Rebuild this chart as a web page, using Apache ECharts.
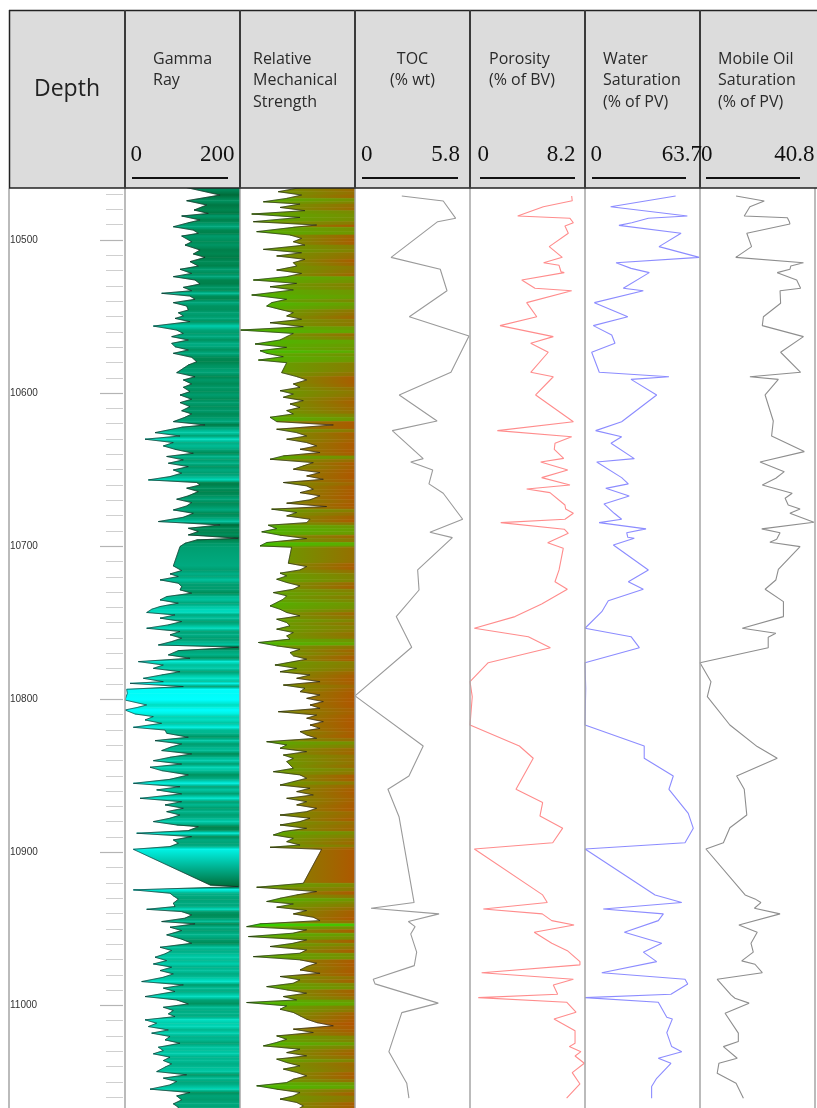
<!DOCTYPE html>
<html><head><meta charset="utf-8">
<script src="https://cdn.jsdelivr.net/npm/echarts@6/dist/echarts.min.js"></script>
<style>html,body{margin:0;padding:0;background:#fff}#c{width:817px;height:1108px}</style>
</head><body><div id="c"></div>
<script>
// ---------------- data ----------------
const depthRange = [10466, 11067];
const depthLabels = [10500, 10600, 10700, 10800, 10900, 11000];
const trackTitles = ['Gamma\nRay', 'Relative\nMechanical\nStrength', 'TOC\n(% wt)', 'Porosity\n(% of BV)', 'Water\nSaturation\n(% of PV)', 'Mobile Oil\nSaturation\n(% of PV)'];
const scaleMin = ['0', '', '0', '0', '0', '0'];
const scaleMax = ['200', '', '5.8', '8.2', '63.7', '40.8'];
const axisMax = [200, 1, 5.8, 8.2, 63.7, 40.8];

// [depth, gamma ray]
const gammaRay = [[10465,98.6],[10470.6,165.3],[10474.3,107.3],[10477.1,142.1],[10480.4,120.1],[10482.6,145],[10484.3,98.6],[10486.9,130.5],[10488.7,110.2],[10491.3,84.1],[10493.5,118.9],[10495.6,127.6],[10497.4,98.6],[10501.1,116],[10503.3,104.4],[10506.5,130.5],[10509.1,118.9],[10511.3,139.2],[10514.1,113.1],[10517,127.6],[10519.1,95.7],[10521.8,116],[10523.9,84.1],[10526.1,121.8],[10528.7,130.5],[10530.9,101.5],[10533.1,116],[10534.8,63.8],[10536.6,113.1],[10538.7,121.8],[10540.9,84.1],[10543.1,107.3],[10545.7,110.2],[10547.5,92.8],[10549.6,101.5],[10551.2,87],[10553.3,113.1],[10556.2,49.3],[10558.8,89.9],[10561,101.5],[10563.1,81.2],[10565.3,110.2],[10567.5,81.2],[10569.7,87],[10571.8,110.2],[10574,84.1],[10576.6,116],[10579.5,124.7],[10581.6,110.2],[10583.8,101.5],[10586.6,89.9],[10589.3,121.8],[10591.4,101.5],[10594,116],[10596.2,101.5],[10599,113.1],[10601.2,95.7],[10604,116],[10606.2,95.7],[10608.8,113.1],[10611.5,98.6],[10613.6,116],[10615.8,104.4],
[10618.6,84.1],[10620.8,139.2],[10622.3,98.6],[10625.8,52.2],[10628,95.7],[10630.1,34.8],[10632.3,84.1],[10634.5,66.7],[10636.7,87],[10639.3,118.9],[10641.4,72.5],[10643.6,101.5],[10645.8,75.4],[10648,110.2],[10650.2,84.1],[10652.3,98.6],[10654.5,78.3],[10656.7,40.6],[10658.4,124.7],[10660,130.5],[10662.1,107.3],[10664.3,127.6],[10667.1,110.2],[10669.3,89.9],[10671.5,116],[10673.7,107.3],[10676.3,84.1],[10678.5,118.9],[10681.1,101.5],[10683.9,58],[10686.1,165.3],[10688.3,110.2],[10690.4,127.6],[10692.6,110.2],[10694.8,197.2],[10695.9,124.7],[10698.1,104.4],[10700.2,95.7],[10712.9,84.1],[10715.9,98.6],[10718.1,78.3],[10719.8,92.8],[10722,60.9],[10724.2,92.8],[10726.4,98.6],[10728.5,95.7],[10730.7,116],[10732.9,72.5],[10735.1,60.9],[10737.2,92.8],[10739.4,60.9],[10741.2,46.4],[10743.3,37.7],[10744.9,87],[10747,60.9],[10749.2,98.6],[10751.4,75.4],[10753.6,37.7],[10755.7,95.7],[10757.9,78.3],[10760.1,98.6],[10762.3,81.2],[10764.5,58],[10766,197.2],[10768.2,92.8],[10771,75.4],
[10773.2,113.1],[10775.4,23.2],[10777.6,66.7],[10779.8,49.3],[10782,95.7],[10784.1,63.8],[10786.3,31.9],[10788.5,66.7],[10789.6,8.7],[10791.7,101.5],[10793.5,2.9],[10796.1,4.1],[10800.5,0],[10803.7,37.7],[10805.2,23.2],[10807,0],[10809.6,17.4],[10811.3,49.3],[10813.5,34.8],[10815.7,63.8],[10818.3,14.5],[10820.1,69.6],[10822.2,72.5],[10824.8,110.2],[10827,52.2],[10829.2,98.6],[10831.4,78.3],[10833.5,63.8],[10835.7,116],[10837.9,78.3],[10840.1,49.3],[10842.3,98.6],[10844.4,43.5],[10846.6,63.8],[10849.4,110.2],[10852.3,78.3],[10854.9,14.5],[10857.1,95.7],[10859.2,55.1],[10861.8,98.6],[10864.7,26.1],[10866.9,98.6],[10869,69.6],[10871.2,101.5],[10873.4,72.5],[10875.6,95.7],[10877.7,78.3],[10879.9,49.3],[10882.1,89.9],[10883.2,127.6],[10885.8,110.2],[10887.5,20.3],[10889.7,116],[10891.9,84.1],[10894.1,92.8],[10896.2,78.3],[10898,14.5],[10921.3,147.9],[10922.4,197.2],[10924.5,14.5],[10926.7,78.3],
[10928.4,84.1],[10930.6,92.8],[10933.2,84.1],[10935.4,87],[10937.2,37.7],[10938.7,98.6],[10940.9,116],[10943,104.4],[10945.2,63.8],[10946.7,121.8],[10948.9,78.3],[10951.1,98.6],[10953.9,72.5],[10956.7,98.6],[10959.4,116],[10962,60.9],[10964.1,81.2],[10966.3,69.6],[10968.5,52.2],[10970.7,72.5],[10972.9,49.3],[10975,81.2],[10977.2,60.9],[10979.4,84.1],[10981.6,66.7],[10984.4,29],[10986.6,101.5],[10988.7,66.7],[10990.9,87],[10994.2,34.8],[10996.4,89.9],[10999,110.2],[11001.2,66.7],[11003.3,84.1],[11005.5,75.4],[11007.3,87],[11009.4,34.8],[11011.6,55.1],[11013.8,40.6],[11016,75.4],[11018.1,46.4],[11020.3,78.3],[11022.5,69.6],[11024.7,95.7],[11027.3,58],[11029.5,66.7],[11031.6,49.3],[11033.8,78.3],[11036,66.7],[11038.2,81.2],[11040.3,69.6],[11043.2,55.1],[11045.3,107.3],[11047.5,66.7],[11049.7,89.9],[11051.9,78.3],[11054.7,43.5],[11056.9,113.1],[11059.1,89.9],[11061.7,98.6],[11064.3,84.1],[11066.5,92.8],[11068,90]];

// [depth, relative mechanical strength (0..1, fill to right edge)]
const mechStrength = [[10465,0.58],[10468.4,0.333],[10470.6,0.536],[10472.8,0.406],[10475,0.203],[10476.5,0.522],[10478.7,0.348],[10480.8,0.565],[10483,0.102],[10485.2,0.522],[10488,0.116],[10490.2,0.667],[10491.7,0.464],[10494.5,0.145],[10496.7,0.435],[10498.9,0.536],[10501.1,0.464],[10503.3,0.565],[10506.1,0.203],[10508.3,0.536],[10510.4,0.319],[10512.6,0.565],[10514.8,0.464],[10517,0.493],[10519.6,0.319],[10521.8,0.536],[10523.9,0.406],[10526.1,0.116],[10528.3,0.493],[10530.5,0.261],[10532.6,0.464],[10535.9,0.102],[10538.7,0.406],[10540.9,0.275],[10543.1,0.232],[10545.3,0.348],[10547.4,0.464],[10549.6,0.406],[10551.8,0.536],[10554,0.261],[10556.6,0.551],[10558.8,0],[10561,0.464],[10563.1,0.406],[10565.3,0.348],[10567.9,0.131],[10570.1,0.406],[10572.3,0.174],[10574,0.232],[10576.2,0.377],[10578.4,0.16],[10580.1,0.406],[10586.6,0.362],[10589.2,0.493],[10591.4,0.58],[10594,0.464],[10596.2,0.522],[10598.4,0.348],[10600.6,0.464],[10602.7,0.377],[10604.9,0.551],[10607.1,0.435],[10609.3,0.522],[10611.4,0.406],[10613.6,0.464],[10615.8,0.261],
[10618.6,0.319],[10620.8,0.812],[10623.6,0.319],[10625.8,0.493],[10628,0.58],[10630.1,0.406],[10632.3,0.58],[10634.5,0.667],[10636.7,0.522],[10638.8,0.696],[10641,0.377],[10643.2,0.261],[10645.4,0.638],[10647.5,0.551],[10649.7,0.464],[10651.9,0.696],[10654.1,0.58],[10656.3,0.725],[10658.4,0.377],[10660.6,0.58],[10662.8,0.638],[10665,0.522],[10667.1,0.696],[10669.7,0.609],[10671.9,0.406],[10674.1,0.754],[10675.8,0.275],[10678,0.493],[10680.2,0.406],[10682.4,0.609],[10684.6,0.58],[10686.3,0.246],[10688.5,0.319],[10690.6,0.189],[10692.8,0.348],[10695,0.58],[10697.6,0.232],[10699.8,0.174],[10700.7,0.449],[10711.1,0.42],[10713.3,0.58],[10715.5,0.522],[10717.6,0.348],[10719.4,0.406],[10721.6,0.319],[10723.7,0.406],[10725.9,0.522],[10728.1,0.464],[10730.3,0.29],[10732.4,0.406],[10734.6,0.377],[10736.8,0.319],[10739,0.261],[10741.2,0.348],[10743.3,0.406],[10745.5,0.522],[10747.7,0.319],[10749.9,0.406],[10752,0.435],[10754.2,0.319],[10756.4,0.464],[10758.6,0.406],[10760.7,0.435],[10762.9,0.16],[10765.1,0.319],[10767.3,0.522],[10769.5,0.435],[10771.6,0.464],[10773.8,0.58],
[10775.4,0.464],[10777.6,0.304],[10779.8,0.493],[10782,0.348],[10784.1,0.609],[10786.3,0.493],[10788.5,0.696],[10790.7,0.377],[10792.8,0.565],[10795,0.522],[10797.2,0.696],[10799.4,0.58],[10801.5,0.725],[10803.7,0.609],[10805.9,0.696],[10808.1,0.333],[10810.3,0.667],[10812.4,0.58],[10814.6,0.725],[10816.8,0.609],[10819,0.696],[10821.1,0.522],[10823.3,0.58],[10825.5,0.667],[10827.7,0.232],[10829.8,0.406],[10832,0.348],[10834.2,0.58],[10836.4,0.377],[10838.6,0.464],[10840.7,0.406],[10842.9,0.435],[10845.1,0.464],[10847.3,0.29],[10849.4,0.522],[10851.6,0.58],[10853.8,0.464],[10856,0.348],[10858.1,0.609],[10860.3,0.493],[10862.5,0.638],[10864.7,0.406],[10866.9,0.58],[10869,0.493],[10871.2,0.667],[10873.4,0.58],[10875.6,0.348],[10877.7,0.609],[10879.9,0.522],[10882.1,0.348],[10884.3,0.58],[10886.4,0.377],[10888.6,0.29],[10890.8,0.464],[10893,0.406],[10895.2,0.522],[10896.7,0.261],[10898,0.71],[10920.2,0.551],
[10922.8,0.145],[10925.6,0.667],[10927.8,0.493],[10930,0.348],[10932.1,0.232],[10933.7,0.464],[10935.8,0.319],[10938,0.58],[10940.2,0.464],[10942.4,0.638],[10944.6,0.696],[10946.7,0.174],[10948.5,0.058],[10950.6,0.58],[10952.8,0.464],[10955,0.073],[10957.2,0.58],[10959.4,0.464],[10961.5,0.261],[10963.7,0.58],[10965.9,0.522],[10968.1,0.116],[10970.2,0.522],[10972.4,0.667],[10974.6,0.58],[10976.8,0.522],[10979,0.696],[10981.1,0.348],[10983.3,0.522],[10985.5,0.464],[10987.7,0.232],[10989.8,0.406],[10992,0.58],[10994.2,0.377],[10996.4,0.493],[10998.1,0.058],[11000.3,0.406],[11002.5,0.348],[11004.6,0.464],[11006.8,0.522],[11009,0.58],[11011.2,0.667],[11013.3,0.812],[11015.5,0.464],[11017.7,0.638],[11019.9,0.319],[11022.1,0.406],[11024.2,0.319],[11026.4,0.203],[11028.6,0.522],[11030.8,0.406],[11032.9,0.58],[11035.1,0.319],[11037.3,0.406],[11039.5,0.522],[11041.6,0.377],[11043.8,0.493],[11046,0.58],[11048.2,0.464],[11050.4,0.406],[11052.5,0.145],[11054.7,0.319],[11056.9,0.522],[11059.1,0.464],[11061.2,0.348],[11063.4,0.493],[11065.6,0.551],[11068,0.5]];

// [depth, TOC % wt]
const toc = [[10471.2,2.36],[10474.5,4.45],[10485.8,5.08],[10488,4.17],[10511.3,1.82],[10519.1,4.3],[10533.1,4.64],[10550.1,2.74],[10562.7,5.75],[10586.4,4.84],[10601.2,2.23],[10618.2,4.14],[10624.5,1.88],[10642.8,3.44],[10645,2.81],[10650.2,3.92],[10659.3,3.73],[10665.4,4.45],[10682.4,5.43],[10690.9,3.78],[10694.4,4.91],[10715.5,3.16],[10728.6,3.23],[10746,2.08],[10766,2.86],[10797.8,0],[10830.5,3.44],[10850.1,2.72],[10858.8,1.66],[10876.7,2.22],[10932.8,2.98],[10936.5,0.81],[10940.2,4.24],[10945.2,2.69],[10948.5,3.03],[10953.3,2.81],[10965.2,3.11],[10974,2.99],[10982.9,0.92],[10985.9,1.01],[10998.5,4.2],[11004.7,2.36],[11030.2,1.71],[11050.8,2.61],[11060.6,2.72]];

// [depth, porosity % of BV]
const porosity = [[10471.2,7.25],[10474.3,7.29],[10478.2,5.23],[10484.3,3.4],[10485.8,7.13],[10488.7,7.37],[10489.5,7.49],[10490.8,6.77],[10495.6,7.01],[10504.3,5.65],[10511.3,6.58],[10514.8,5.25],[10516.5,6.35],[10520.7,6.49],[10521.3,6.72],[10526.1,3.69],[10531.5,4.63],[10533.1,7.25],[10540.9,4.04],[10550.1,4.76],[10555.9,2.14],[10563.1,5.94],[10567.4,4.33],[10573.3,5.58],[10586.4,4.33],[10589.3,5.94],[10601.2,4.68],[10618.7,7.37],[10624.5,1.95],[10628.5,7.25],[10632.8,6.06],[10636.7,6.01],[10642.6,6.68],[10645,5.04],[10650.2,6.97],[10655.2,5.11],[10660,7.13],[10662.6,4.04],[10665,5.7],[10673.1,6.77],[10675.7,6.82],[10678.5,7.37],[10682.4,6.77],[10684.6,2.19],[10688.9,6.72],[10691.6,7.01],[10697.7,5.54],[10701.4,6.65],[10715.5,6.35],[10723.2,6.06],[10728.1,6.94],[10737.7,5.11],[10746,3.21],[10753.6,0.31],[10759.1,4.16],[10766.3,5.73],[10776.1,1.3],[10788.5,0],[10798.3,0.16],[10816.8,0],[10830.5,3.52],[10838.5,4.51],[10858.8,3.28],[10867.5,5.18],[10876.2,4.99],[10884.2,6.61],[10893.7,5.9],[10897.8,0.31],[10927.8,5.18],[10932.8,5.51],[10937,0.95],[10940.2,5.15],[10944.6,5.83],[10947.4,7.42],[10952.2,4.58],[10959.4,5.83],[10964.2,6.94],[10971.4,7.84],[10973.5,7.84],[10978.6,0.83],[10982.9,7.37],[10986.6,5.94],[10992.7,6.25],[10994.9,0.59],[10997.9,6.89],[11004.4,7.56],[11008.8,5.99],[11016.5,7.49],[11024.7,7.49],[11026.9,7.08],[11030.2,7.91],[11033,7.49],[11037.8,8.15],[11043.9,7.29],[11051.3,7.84],[11060.6,6.89]];

// [depth, water saturation % of PV]
const waterSat = [[10471.2,50.2],[10478.2,14.2],[10484.3,56.7],[10485.8,35.1],[10488.7,25.9],[10490.4,18.8],[10495.6,53.2],[10504.3,41],[10511.3,63.3],[10514.8,17.2],[10518.5,25.5],[10521.3,35.6],[10531.5,21.2],[10533.1,32.3],[10540.9,5.2],[10550.1,23.7],[10555.9,4.6],[10562,14.8],[10567.4,16.6],[10573.3,3.7],[10586.4,7.9],[10589.3,46.5],[10591,25.5],[10601.2,39.7],[10618.7,20.3],[10624.5,5.9],[10628.5,20.3],[10632.8,14.4],[10642.8,27.3],[10645,6.5],[10655.2,20.3],[10659.3,24],[10662.2,11.5],[10667.2,24.5],[10672.4,10.5],[10678.5,16.2],[10682.4,20.3],[10684.6,7.8],[10688.7,33.8],[10691.2,23.1],[10694.2,23.7],[10694.8,27.3],[10699.2,15.7],[10715.5,35.1],[10723.2,24],[10728.1,32.3],[10735.6,12.9],[10742.8,9.3],[10753.6,0],[10759.1,25.5],[10766.3,30.1],[10776.1,0],[10792.9,0.4],[10816.8,0],[10830.5,32.8],[10838.5,32.8],[10850.1,48.9],[10858.8,46.5],[10874.5,57.2],[10884.3,60],[10893.7,55.4],[10897.8,0],[10927.8,38.8],[10932.8,53.6],[10937,10.1],[10940.2,43.4],[10944.6,40.6],[10952.2,21.8],[10959.4,42.5],[10965.2,32.3],[10971.4,39.7],[10978.6,9.3],[10982.9,55.4],[10986,56.9],[10992.7,47.6],[10994.9,0],[10997.9,40.6],[11007.7,45.3],[11008.8,48.4],[11017.8,45.3],[11026.9,48],[11030.2,53.6],[11034.5,40.6],[11037.8,47.6],[11047.6,39.7],[11053,36.9],[11060.6,36.9]];

// [depth, mobile oil saturation % of PV]
const mobileOil = [[10471.2,12.8],[10474.5,22.8],[10478.2,17.7],[10484.3,15.7],[10485.4,31],[10488,31.7],[10489.5,31.9],[10495.6,16.6],[10504.3,18.3],[10511.3,12.7],[10514.8,36.7],[10517,32.2],[10519.1,31.9],[10521.3,27.4],[10526.1,34.3],[10531.5,35.7],[10533.1,28.4],[10541.3,28.6],[10550.1,22.5],[10555.9,22.1],[10563.1,36.7],[10573.3,28.6],[10586.4,35.7],[10589.3,17.7],[10591,27.8],[10601.2,23.1],[10618.2,26],[10628,25.4],[10638.2,37],[10645,21.3],[10651.3,29.9],[10655.6,26.9],[10660,22.1],[10665.4,32.7],[10668.7,30.2],[10673.1,31.3],[10675.7,35.5],[10678.5,31.9],[10684.4,40.4],[10688.7,21.9],[10691.2,28.4],[10695.5,27.2],[10697.4,24.8],[10700.3,35.5],[10715.1,27.8],[10722.1,26.9],[10728.1,23.1],[10736.2,29.6],[10746,29.6],[10753.6,15],[10756.9,26.9],[10759.5,24.2],[10766.3,24.2],[10776.1,0],[10788.5,3.9],[10798.3,2.6],[10816.8,10.6],[10830.9,20.3],[10838.5,27.4],[10850.1,13],[10858.8,15.7],[10875.6,16.6],[10883.9,10.6],[10893.7,8.3],[10897.8,2.1],[10927.8,16],[10930.4,19.5],[10932.8,21.6],[10936.5,19.3],[10940.2,28.4],[10947.4,13.8],[10952.2,20.3],[10959.4,18.1],[10965.2,18.9],[10970.9,14.8],[10973.1,19.5],[10978.6,22.1],[10982.9,6.1],[10993.1,11],[10995.3,12.4],[10998.5,17.4],[11005.1,8.9],[11018.1,13.6],[11023.6,13.6],[11026.9,8.3],[11034.5,13.2],[11037.8,6.7],[11044.3,6.1],[11050.8,12.8],[11060.6,15.4]];

// ---------------- helpers ----------------
function hex(h){ return [1,3,5].map(i => parseInt(h.substr(i,2),16)); }
function ramp(stops, v){
  if (v <= stops[0][0]) return stops[0][1];
  for (let i = 1; i < stops.length; i++) {
    if (v <= stops[i][0]) {
      const t = (v - stops[i-1][0]) / (stops[i][0] - stops[i-1][0]);
      const a = hex(stops[i-1][1]), b = hex(stops[i][1]);
      return 'rgb(' + [0,1,2].map(k => Math.round(a[k] + (b[k]-a[k])*t)).join(',') + ')';
    }
  }
  return stops[stops.length-1][1];
}
const grStops = [[0,'#00ffff'],[30,'#00e6cc'],[60,'#00c4a0'],[90,'#00a478'],[120,'#008650'],[160,'#006a38']];
const rmsLeftStops = [[0,'#22ee00'],[0.2,'#44c000'],[0.4,'#6a9a00'],[0.6,'#8a7c00'],[0.8,'#a86000']];
const rmsRightStops = [[0,'#30e000'],[0.15,'#50b800'],[0.35,'#7e8600'],[0.5,'#a85e00'],[1,'#c04800']];

function segs(arr){ const out = []; for (let i = 0; i < arr.length-1; i++) out.push([arr[i][1], arr[i][0], arr[i+1][1], arr[i+1][0]]); return out; }
function xy(arr){ return arr.map(p => [p[1], p[0]]); }

function grRender(params, api){
  const v0 = api.value(0), d0 = api.value(1), v1 = api.value(2), d1 = api.value(3);
  const g = new echarts.graphic.LinearGradient(0,0,0,1,[{offset:0,color:ramp(grStops,v0)},{offset:1,color:ramp(grStops,v1)}]);
  return { type:'polygon', silent:true,
    shape:{ points:[api.coord([v0,d0]), api.coord([v1,d1]), api.coord([axisMax[0],d1]), api.coord([axisMax[0],d0])] },
    style:{ fill:g, stroke:g, lineWidth:0.6 } };
}
function rmsRender(params, api){
  const v0 = api.value(0), d0 = api.value(1), v1 = api.value(2), d1 = api.value(3);
  const v = (v0 + v1) / 2;
  const g = new echarts.graphic.LinearGradient(0,0,1,0,[{offset:0,color:ramp(rmsLeftStops,v)},{offset:1,color:ramp(rmsRightStops,v)}]);
  return { type:'polygon', silent:true,
    shape:{ points:[api.coord([v0,d0]), api.coord([v1,d1]), api.coord([axisMax[1],d1]), api.coord([axisMax[1],d0])] },
    style:{ fill:g, stroke:g, lineWidth:0.6 } };
}

// ---------------- layout ----------------
const trackLeft = [125, 240, 355, 470, 585, 700];
const TW = 115, TOP = 188, H = 920;

const grids = [{ left: 9, top: TOP, width: 114, height: H, show: false }];
trackLeft.forEach(l => grids.push({ left: l, top: TOP, width: TW, height: H, show: true, backgroundColor: '#fff', borderWidth: 0 }));

const xAxes = [{ gridIndex: 0, type: 'value', min: 0, max: 1, show: false }];
axisMax.forEach((m, i) => xAxes.push({ gridIndex: i+1, type: 'value', min: 0, max: m, show: false }));

const minorTicks = [];
for (let d = Math.ceil(depthRange[0]/10)*10; d <= depthRange[1]; d += 10) if (d % 100 !== 0) minorTicks.push(d);

const yBase = { type: 'value', min: depthRange[0], max: depthRange[1], inverse: true, splitLine: { show: false } };
const yAxes = [
  Object.assign({}, yBase, { gridIndex: 0, position: 'left', axisLine: { show: false }, axisTick: { show: false },
    axisLabel: { inside: true, margin: 1, customValues: depthLabels, formatter: v => String(v), fontSize: 10, fontFamily: 'Liberation Sans', color: '#333', verticalAlign: 'middle', padding: [0,0,8,0] } }),
  Object.assign({}, yBase, { gridIndex: 0, position: 'right', axisLine: { show: false }, axisLabel: { show: false },
    axisTick: { show: true, inside: true, length: 23, customValues: depthLabels, lineStyle: { color: '#b4b4b4', width: 1.2 } } }),
  Object.assign({}, yBase, { gridIndex: 0, position: 'right', axisLine: { show: false }, axisLabel: { show: false },
    axisTick: { show: true, inside: true, length: 17, customValues: minorTicks, lineStyle: { color: '#cfcfcf', width: 1 } } })
];
trackLeft.forEach((l, i) => yAxes.push(Object.assign({}, yBase, { gridIndex: i+1, show: false })));

const lineSeries = (data, i, color, width) => ({ type: 'line', xAxisIndex: i+1, yAxisIndex: i+3, data: xy(data), symbol: 'none', showSymbol: false, silent: true, z: 4,
  lineStyle: { color: color, width: width }, clip: true });

const series = [
  { type: 'custom', xAxisIndex: 1, yAxisIndex: 3, data: segs(gammaRay), encode: { x: [0,2], y: [1,3] }, renderItem: grRender, clip: true, silent: true, z: 2 },
  Object.assign(lineSeries(gammaRay, 0, 'rgba(30,30,30,0.75)', 0.8), { z: 3 }),
  { type: 'custom', xAxisIndex: 2, yAxisIndex: 4, data: segs(mechStrength), encode: { x: [0,2], y: [1,3] }, renderItem: rmsRender, clip: true, silent: true, z: 2 },
  Object.assign(lineSeries(mechStrength, 1, 'rgba(30,30,30,0.75)', 0.8), { z: 3 }),
  lineSeries(toc, 2, '#9a9a9a', 1.1),
  lineSeries(porosity, 3, '#ff8c8c', 1.1),
  lineSeries(waterSat, 4, '#8c8cff', 1.1),
  lineSeries(mobileOil, 5, '#8e8e8e', 1.1)
];

// ---------------- header (graphic) ----------------
const gfx = [];
gfx.push({ type: 'rect', z: 100, shape: { x: 9, y: 10, width: 808, height: 178 }, style: { fill: '#dcdcdc' } });
[9, 125, 240, 355, 470, 585, 700, 815].forEach(x => gfx.push({ type: 'line', z: 90, shape: { x1: x, y1: 188, x2: x, y2: 1108 }, style: { stroke: '#a4a4a4', lineWidth: 1.5 } }));
gfx.push({ type: 'line', z: 101, shape: { x1: 9, y1: 10.5, x2: 817, y2: 10.5 }, style: { stroke: '#222', lineWidth: 1.5 } });
gfx.push({ type: 'line', z: 101, shape: { x1: 9, y1: 188, x2: 817, y2: 188 }, style: { stroke: '#222', lineWidth: 1.5 } });
gfx.push({ type: 'line', z: 101, shape: { x1: 9.5, y1: 10, x2: 9.5, y2: 188 }, style: { stroke: '#222', lineWidth: 1.5 } });
trackLeft.forEach(x => gfx.push({ type: 'line', z: 101, shape: { x1: x, y1: 10, x2: x, y2: 188 }, style: { stroke: '#3a3a3a', lineWidth: 2 } }));
gfx.push({ type: 'text', z: 102, style: { text: 'Depth', x: 67, y: 89, align: 'center', verticalAlign: 'middle', fontSize: 23, fontFamily: 'Open Sans', fill: '#222' } });
const titleX = [153, 253, 412.5, 489, 603, 718];
const titleAlign = ['left', 'left', 'center', 'left', 'left', 'left'];
trackTitles.forEach((t, i) => gfx.push({ type: 'text', z: 102, style: { text: t, x: titleX[i], y: 48.5, align: titleAlign[i], verticalAlign: 'top', fontSize: 16, lineHeight: 21.5, fontFamily: 'Open Sans', fill: '#2a2a2a' } }));
const minX = [130.5, null, 361, 477.5, 590.5, 701];
const maxX = [234.5, null, 460, 575.5, 702, 814.5];
const ulX = [[132,228], null, [362,458], [480,575], [592,686], [706,800]];
trackTitles.forEach((t, i) => {
  if (!scaleMax[i]) return;
  gfx.push({ type: 'text', z: 102, style: { text: scaleMin[i], x: minX[i], y: 155, align: 'left', verticalAlign: 'middle', fontSize: 23, fontFamily: 'Liberation Serif', fill: '#111' } });
  gfx.push({ type: 'text', z: 102, style: { text: scaleMax[i], x: maxX[i], y: 155, align: 'right', verticalAlign: 'middle', fontSize: 23, fontFamily: 'Liberation Serif', fill: '#111' } });
  gfx.push({ type: 'line', z: 102, shape: { x1: ulX[i][0], y1: 178, x2: ulX[i][1], y2: 178 }, style: { stroke: '#111', lineWidth: 2 } });
});

const chart = echarts.init(document.getElementById('c'), null, { renderer: 'canvas' });
chart.setOption({
  animation: false,
  backgroundColor: '#fff',
  grid: grids, xAxis: xAxes, yAxis: yAxes, series: series, graphic: gfx
});
</script></body></html>
